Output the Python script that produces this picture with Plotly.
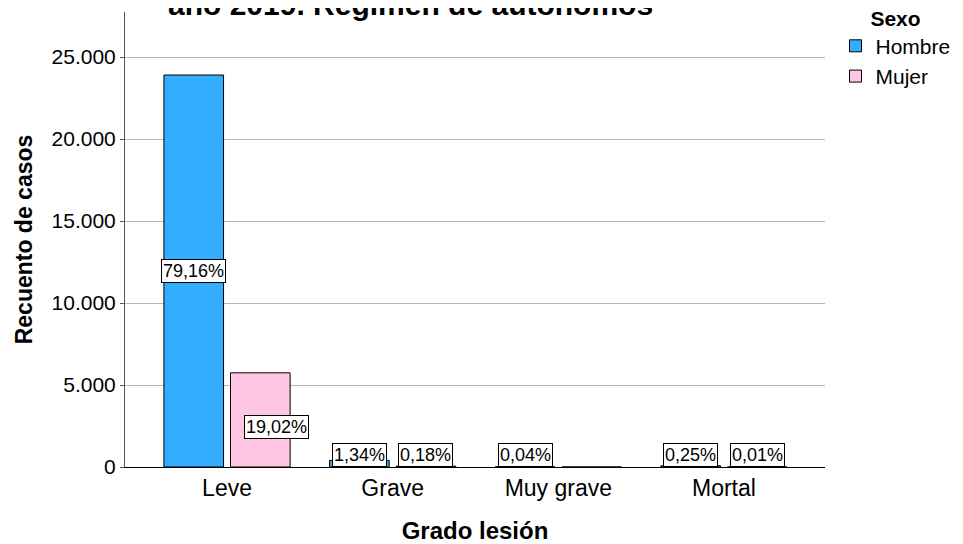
import plotly.graph_objects as go

categorias = ["Leve", "Grave", "Muy grave", "Mortal"]
hombre = [23906, 405, 12, 76]
mujer = [5744, 54, 0, 3]
pct_hombre = ["79,16%", "1,34%", "0,04%", "0,25%"]
pct_mujer = ["19,02%", "0,18%", "", "0,01%"]
y_ticks = [0, 5000, 10000, 15000, 20000, 25000]

FUENTE = "Liberation Sans, Arial, sans-serif"
ancho = 0.36
sep = 0.021

fig = go.Figure()
fig.add_trace(go.Bar(
    x=categorias, y=hombre, name="Hombre", width=ancho, offset=-sep - ancho,
    marker=dict(color="#33adff", line=dict(color="black", width=1)),
))
fig.add_trace(go.Bar(
    x=categorias, y=mujer, name="Mujer", width=ancho, offset=sep,
    marker=dict(color="#ffc6e3", line=dict(color="black", width=1)),
))

# etiquetas de porcentaje en recuadro
centro = ancho / 2 + sep
for i, cat in enumerate(categorias):
    for valor, txt, dx in ((hombre[i], pct_hombre[i], -centro), (mujer[i], pct_mujer[i], centro)):
        if not txt:
            continue
        grande = valor > 2000
        fig.add_annotation(
            x=i + dx, y=valor / 2 if grande else 0,
            xref="x", yref="y",
            yanchor="middle" if grande else "bottom",
            xshift=16 if (grande and dx > 0) else 0,
            yshift=-7 if (grande and dx > 0) else 0,
            text=txt, showarrow=False,
            font=dict(family=FUENTE, size=18, color="black"),
            bgcolor="white", bordercolor="black", borderwidth=1, borderpad=1,
        )

# titulo (cortado en el borde superior, como en el original)
fig.add_annotation(
    x=(410 - 125) / 700, y=1, xref="paper", yref="paper",
    xanchor="center", yanchor="middle", yshift=8,
    text="<b>año 2019. Régimen de autónomos</b>", showarrow=False,
    font=dict(family=FUENTE, size=30, color="black"),
)

fig.update_layout(
    width=963, height=544,
    margin=dict(l=117, r=146, t=4, b=85, autoexpand=False),
    plot_bgcolor="white", paper_bgcolor="white",
    separators=",.",
    font=dict(family=FUENTE, color="black"),
    showlegend=True,
    legend=dict(
        x=1.015, y=1.03, xanchor="left", yanchor="top",
        title=dict(text="<b>Sexo</b>", side="top center", font=dict(size=21)),
        font=dict(size=21), itemwidth=30,
        tracegroupgap=0,
    ),
    xaxis=dict(
        range=[-0.616, 3.61], automargin=False,
        tickfont=dict(size=23), ticks="", showgrid=False, zeroline=False,
        showline=True, linecolor="black", linewidth=1,
        title=dict(text="<b>Grado lesión</b>", font=dict(size=24), standoff=22),
    ),
    yaxis=dict(
        range=[0, 27750], tickvals=y_ticks, tickformat=",d", automargin=False,
        tickfont=dict(size=21), ticks="outside", ticklen=4, tickcolor="#555555",
        showgrid=True, gridcolor="#b4b4b4", gridwidth=1, zeroline=False,
        showline=True, linecolor="#555555", linewidth=1,
        title=dict(text="<b>Recuento de casos</b>", font=dict(size=23), standoff=12),
    ),
)

fig.write_html("out.html")
